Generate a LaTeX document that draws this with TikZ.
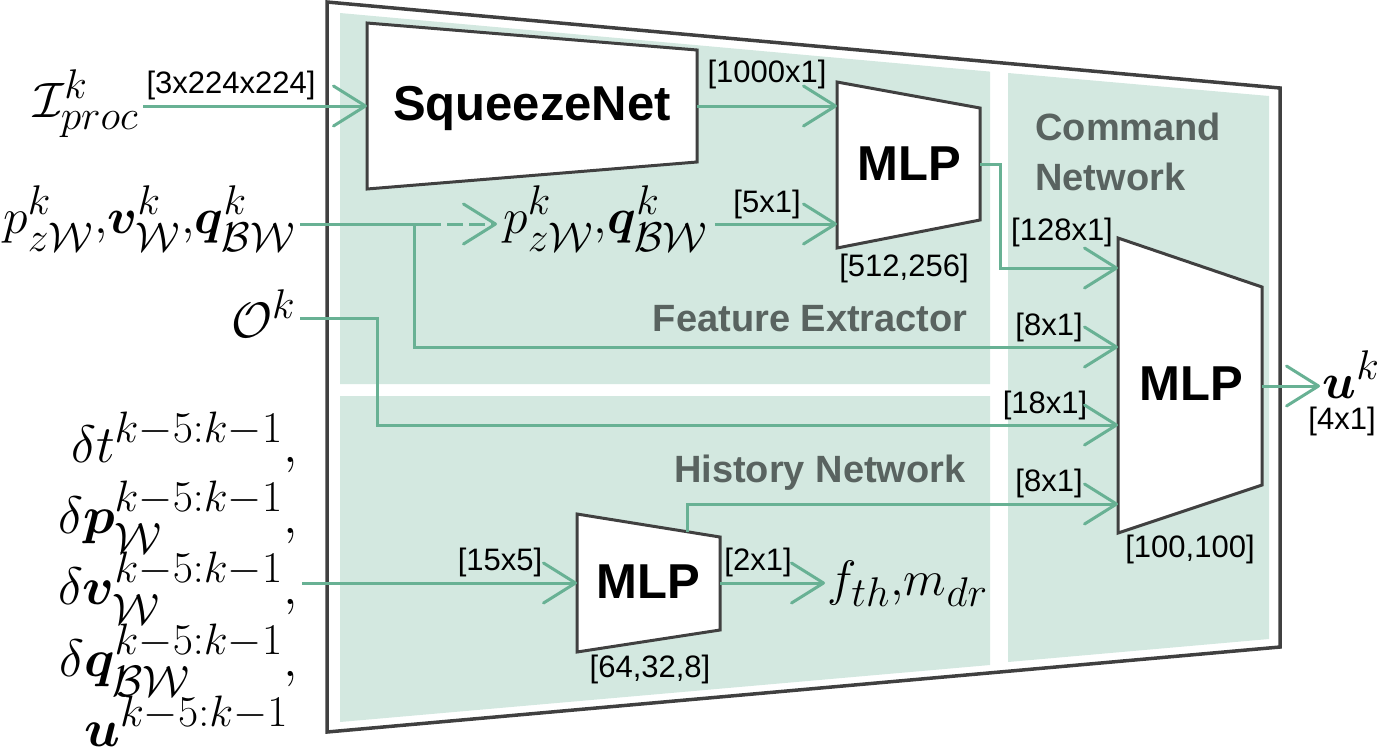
\documentclass[tikz,border=0pt]{standalone}
\usepackage{amsmath,amssymb}
\usepackage{bm}
\usepackage{fontspec}
\setsansfont{Liberation Sans}
\usetikzlibrary{arrows.meta}
\definecolor{cgreen}{HTML}{68B194}
\definecolor{cpanel}{HTML}{D3E8E0}
\definecolor{cgray}{HTML}{596360}
\definecolor{cframe}{HTML}{404040}
\tikzset{
  conn/.style={draw=cgreen, line width=1.5pt},
  arr/.style={conn, -{Straight Barb[length=16pt,width=20pt,round]}},
  trap/.style={draw=cframe, fill=white, line width=1.5pt, line join=miter},
  dimlab/.style={font=\sffamily\fontsize{15.5}{18}\selectfont, inner sep=0},
  blk/.style={font=\sffamily\bfseries\fontsize{24.5}{28}\selectfont, inner sep=0},
  sect/.style={font=\sffamily\bfseries\fontsize{19}{22}\selectfont, text=cgray, inner sep=0},
  mth/.style={font=\fontsize{24.88}{30}\selectfont, inner sep=0},
  hist/.style={mth, anchor=base east, scale=1.06, transform shape},
}
\begin{document}
\begin{tikzpicture}[x=0.5pt,y=-0.5pt]
\useasboundingbox (0,0) rectangle (1379,751);
% panels
\fill[cpanel] (340,13) -- (990,71.6) -- (990,384) -- (340,384) -- cycle;
\fill[cpanel] (340,396) -- (990,396) -- (990,665) -- (340,722) -- cycle;
\fill[cpanel] (1008,73) -- (1269,96) -- (1269,639) -- (1008,662) -- cycle;
% frame
\draw[cframe, line width=1.75pt, line join=miter] (327,2) -- (1280,88) -- (1280,647) -- (327,732) -- cycle;
% section labels
\node[sect, anchor=base east] (fe) at (968,331) {Feature Extractor};
\node[sect, anchor=base east] (hn) at (966,482) {History Network};
\node[sect, anchor=base west] (cn1) at (1035,140) {Command};
\node[sect, anchor=base west] (cn2) at (1035,190) {Network};
% blocks
\draw[trap] (367,23) -- (697,50) -- (697,162) -- (367,189) -- cycle;
\draw[trap] (837,82) -- (980,108) -- (980,220) -- (837,248) -- cycle;
\draw[trap] (1118,238) -- (1262,287) -- (1262,485) -- (1118,533) -- cycle;
\draw[trap] (577,514) -- (720,537) -- (720,630) -- (577,652) -- cycle;
\node[blk, anchor=base] (sq) at (532,120) {SqueezeNet};
\node[blk, anchor=base] (m1) at (909,180) {MLP};
\node[blk, anchor=base] (cm) at (1191,400) {MLP};
\node[blk, anchor=base] (hm) at (648,598) {MLP};
% anchor points
\coordinate (sqW) at (367,106);
\coordinate (sqE) at (697,106);
\coordinate (m1Wa) at (837,106);
\coordinate (m1Wb) at (837,224);
\coordinate (m1E) at (980,164);
\coordinate (cmW1) at (1118,268);
\coordinate (cmW2) at (1118,347);
\coordinate (cmW3) at (1118,425);
\coordinate (cmW4) at (1118,504);
\coordinate (cmE) at (1262,386);
\coordinate (hmW) at (577,583);
\coordinate (hmE) at (720,583);
\coordinate (hmT) at (687,532);
\coordinate (j) at (414,224);
\coordinate (oS) at (300,318);
\coordinate (hS) at (302,583);
% math texts
\node[mth, anchor=base east] (inI) at (139,117) {$\mathcal{I}^k_{proc}$};
\node[mth, anchor=base east] (inP) at (296,233) {$p^k_{z\mathcal{W}}{,}\boldsymbol{v}^k_{\mathcal{W}}{,}\boldsymbol{q}^k_{\mathcal{BW}}$};
\node[mth, anchor=base east] (inO) at (296,337) {$\mathcal{O}^k$};
\node[hist] (h1) at (298,462) {$\delta t^{k-5:k-1},$};
\node[hist] (h2) at (298,533) {$\delta \boldsymbol{p}_{\mathcal{W}}^{k-5:k-1},$};
\node[hist] (h3) at (298,604) {$\delta \boldsymbol{v}_{\mathcal{W}}^{k-5:k-1},$};
\node[hist] (h4) at (298,676) {$\delta \boldsymbol{q}_{\mathcal{BW}}^{k-5:k-1},$};
\node[hist] (h5) at (289,746) {$\boldsymbol{u}^{k-5:k-1}$};
\node[mth, anchor=base west] (pqN) at (503,233) {$p^k_{z\mathcal{W}}{,}\boldsymbol{q}^k_{\mathcal{BW}}$};
\node[mth, anchor=base west] (fN) at (827,595) {$f_{th}{,}m_{dr}$};
\node[mth, anchor=base west] (uN) at (1322,398) {$\boldsymbol{u}^k$};
% dimension labels
\node[dimlab] (l1) at (231,85) {[3x224x224]};
\node[dimlab] (l2) at (767,74) {[1000x1]};
\node[dimlab] (l3) at (767,204) {[5x1]};
\node[dimlab] (l4) at (904,268) {[512,256]};
\node[dimlab] (l5) at (1062,232) {[128x1]};
\node[dimlab] (l6) at (1049,327) {[8x1]};
\node[dimlab] (l7) at (1045,405) {[18x1]};
\node[dimlab] (l8) at (1049,483) {[8x1]};
\node[dimlab] (l9) at (1190,549) {[100,100]};
\node[dimlab] (l10) at (500,562) {[15x5]};
\node[dimlab] (l11) at (758,562) {[2x1]};
\node[dimlab] (l12) at (650,669) {[64,32,8]};
\node[dimlab] (l13) at (1342,421) {[4x1]};
% connectors
\draw[arr] ([xshift=2pt]inI.east |- sqW) -- (sqW);
\draw[arr] (sqE) -- (m1Wa);
\draw[conn] ([xshift=2pt]inP.east |- j) -- ([xshift=5.5pt]j);
\draw[arr, dash pattern=on 8pt off 3pt] ([xshift=5.5pt]j) -- ([xshift=-3pt]pqN.west |- j);
\draw[arr] (j) |- (cmW2);
\draw[arr] ([xshift=3pt]pqN.east |- m1Wb) -- (m1Wb);
\draw[arr] (m1E) -- ++(20,0) |- (cmW1);
\draw[arr] (oS) -- ++(77,0) |- (cmW3);
\draw[arr] (hS) -- (hmW);
\draw[arr] (hmT) |- (cmW4);
\draw[arr] (hmE) -- ([xshift=-1pt]fN.west |- hmE);
\draw[arr] (cmE) -- ([xshift=-1pt]uN.west |- cmE);
\end{tikzpicture}
\end{document}
